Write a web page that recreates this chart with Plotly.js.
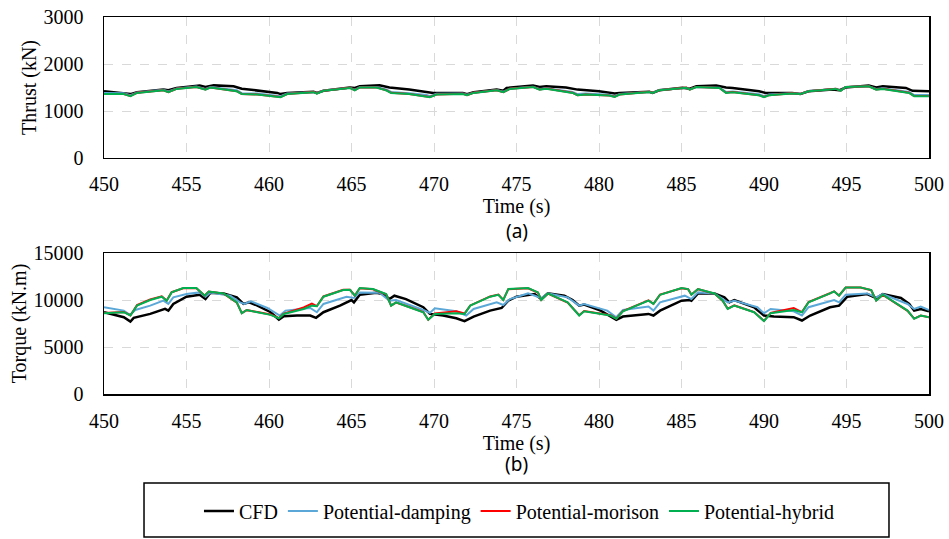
<!DOCTYPE html>
<html><head><meta charset="utf-8">
<script src="https://cdn.plot.ly/plotly-3.0.1.min.js"></script>
<style>html,body{margin:0;padding:0;background:#fff}#chart{width:949px;height:539px}</style>
</head><body><div id="chart"></div>
<script>
// ---------- Thrust (kN) ----------
const tThrustCfd = [450.0,451.2,451.6,452.0,453.6,453.9,454.4,455.8,456.15,456.65,457.85,458.35,459.3,460.5,460.7,461.1,462.7,462.9,463.3,464.9,465.2,465.5,466.7,467.3,468.5,469.75,469.95,471.75,472.0,472.4,473.8,474.2,474.4,
  476.0,476.4,476.8,478.0,478.7,480.0,480.95,481.25,483.05,483.25,483.65,485.05,485.5,485.9,487.1,487.7,488.1,489.7,490.1,491.7,492.2,492.7,494.15,494.55,494.95,496.35,496.8,497.2,498.6,499.0,500.0];
const thrustCfd = [1420,1385,1360,1400,1455,1440,1490,1540,1510,1545,1525,1475,1440,1385,1360,1385,1410,1385,1430,1500,1490,1525,1545,1500,1455,1400,1385,1385,1360,1400,1455,1430,1490,
  1540,1510,1525,1500,1455,1420,1370,1385,1410,1385,1440,1495,1475,1525,1540,1500,1490,1420,1385,1385,1360,1420,1455,1440,1500,1540,1500,1525,1490,1430,1420];

const tThrustPot = [450.0,451.2,451.6,452.0,453.6,453.9,454.4,455.6,456.15,456.45,458.05,458.35,459.3,460.5,460.7,461.1,462.7,462.9,463.3,464.9,465.2,465.5,466.5,467.1,467.4,468.5,469.55,469.75,470.15,471.75,472.0,472.4,473.8,474.2,474.6,475.2,
  476.0,476.4,476.8,478.4,478.7,479.2,480.6,480.95,481.25,483.05,483.25,483.65,485.3,485.5,485.9,487.3,487.7,488.1,489.7,490.0,490.3,491.7,492.2,492.7,494.35,494.65,494.95,496.35,496.8,497.2,498.8,499.1,500.0];
const thrustDamping = [1385,1375,1335,1395,1450,1415,1480,1520,1470,1510,1440,1380,1370,1335,1315,1370,1405,1380,1435,1495,1455,1505,1510,1460,1405,1380,1340,1315,1365,1370,1345,1390,1445,1410,1475,1495,
  1515,1470,1485,1405,1360,1370,1345,1315,1360,1410,1390,1445,1495,1465,1510,1495,1405,1415,1355,1315,1350,1375,1365,1425,1475,1440,1510,1525,1470,1485,1405,1340,1340];
const thrustMorison = [1362,1362,1318,1388,1442,1402,1472,1512,1457,1502,1422,1362,1352,1317,1297,1362,1405,1372,1432,1492,1442,1502,1502,1442,1387,1362,1317,1297,1352,1365,1337,1387,1442,1402,1472,1492,
  1512,1457,1477,1387,1337,1352,1332,1302,1352,1407,1387,1442,1497,1457,1512,1492,1387,1402,1337,1297,1337,1375,1362,1422,1472,1432,1512,1527,1457,1472,1387,1317,1317];
const thrustHybrid = [1360,1360,1315,1385,1440,1400,1470,1510,1455,1500,1420,1360,1350,1315,1295,1360,1400,1370,1430,1490,1440,1500,1500,1440,1385,1360,1315,1295,1350,1360,1335,1385,1440,1400,1470,1490,
  1510,1455,1475,1385,1335,1350,1330,1300,1350,1405,1385,1440,1495,1455,1510,1490,1385,1400,1335,1295,1335,1370,1360,1420,1470,1430,1510,1525,1455,1470,1385,1315,1315];

// ---------- Torque (kN.m) ----------
const tTorqueCfd = [450.0,451.2,451.6,451.8,452.8,453.7,453.9,454.2,455.0,455.8,456.15,456.45,457.25,458.05,458.45,458.8,459.3,460.1,460.6,460.9,461.7,462.5,462.85,463.3,464.3,465.0,465.15,465.5,466.5,466.9,467.3,467.6,468.3,469.35,469.75,470.55,471.35,471.85,472.4,473.4,474.1,474.5,475.0,
  476.1,476.5,476.9,477.9,478.4,478.8,479.1,480.1,481.05,481.45,483.0,483.3,483.7,485.0,485.5,485.6,486.0,487.0,487.6,487.9,488.2,489.4,490.0,490.6,491.8,492.3,492.8,494.0,494.55,495.05,496.25,496.8,497.2,498.3,498.8,499.1,499.5,500.0];
const torqueCfd = [8700,8170,7710,8100,8520,9050,8870,9580,10350,10560,10100,10770,10700,10280,9580,9750,9400,8700,7920,8270,8350,8350,8100,8700,9400,10000,9750,10560,10770,10630,10100,10460,10100,9230,8520,8350,8060,7750,8240,8870,9150,9930,10350,
  10630,10100,10700,10460,10000,9400,9510,8870,7890,8240,8520,8350,8870,9930,10000,9930,10700,10700,10280,9750,10000,9230,8350,8240,8170,7820,8350,9230,9400,10350,10630,10210,10630,10210,9580,8870,9050,8800];

const tTorqueDamping = [450.0,451.2,451.57,451.9,452.8,453.6,453.9,454.2,455.0,455.8,456.15,456.45,457.65,458.25,458.5,458.9,459.9,460.65,461.0,462.5,462.9,463.3,464.7,465.15,465.5,466.7,467.3,467.7,469.35,469.75,470.05,471.35,471.95,472.4,473.8,474.2,474.6,475.2,
  475.7,476.5,476.9,478.1,478.8,479.1,480.5,481.05,481.45,483.0,483.3,483.7,485.2,485.6,486.0,487.0,487.8,488.2,489.6,490.0,490.4,491.8,492.3,492.7,494.25,494.55,494.95,496.25,496.8,497.2,498.7,499.1,499.5,500.0];
const torqueDamping = [9230,8870,8420,8940,9400,9930,9580,10280,10630,10810,10350,10810,10460,9750,9580,9860,9150,8350,8870,9150,8700,9580,10350,10210,10810,10770,9930,10000,8940,8630,9120,8800,8350,9050,9750,9470,10100,10460,
  10700,10210,10700,10280,9400,9580,8870,8170,8940,9300,8870,9750,10460,10100,10810,10700,9750,9930,9230,8590,9050,8800,8350,9230,10000,9750,10560,10700,10280,10630,9580,9050,9300,8940];

const tTorquePot = [450.0,451.2,451.6,452.0,452.8,453.5,453.8,454.1,454.8,455.6,456.1,456.35,457.25,458.05,458.35,458.65,459.3,460.1,460.6,460.9,462.1,462.6,462.9,463.3,464.5,464.9,465.2,465.5,466.3,467.1,467.4,467.7,468.5,469.35,469.65,470.05,471.35,471.85,472.2,473.4,473.9,474.2,474.5,475.2,
  475.7,476.3,476.5,476.9,478.1,478.8,479.1,480.7,481.05,481.45,483.0,483.3,483.7,485.0,485.4,485.6,486.0,487.0,487.5,487.8,488.2,489.4,490.0,490.4,491.8,492.3,492.7,494.0,494.25,494.55,494.95,495.85,496.5,496.8,497.2,498.7,499.1,499.5,500.0];
const torqueMorison = [8620,8730,8360,9450,10050,10400,9950,10830,11250,11250,10470,10900,10680,9720,8600,8920,8720,8450,8080,8560,9200,9620,9360,10380,11080,11100,10480,11250,11140,10600,9420,9730,9250,8720,7900,8560,8800,8560,9420,10380,10580,10020,11150,11250,
  11250,10800,10020,10680,9720,8380,8820,8380,8020,8820,9960,9600,10580,11250,11150,10580,11150,10680,9900,9080,9420,8720,7780,8620,9150,8720,9780,10720,10920,10480,11320,11320,11040,9950,10540,8850,8020,8350,8170];
const torqueHybrid = [8590,8700,8350,9400,10000,10350,9930,10810,11270,11270,10460,10910,10700,9750,8590,8940,8700,8420,8060,8520,9050,9400,9330,10350,11060,11090,10460,11270,11160,10630,9400,9750,9230,8700,7890,8520,8590,8520,9400,10350,10560,10000,11160,11270,
  11270,10810,10000,10700,9750,8350,8800,8350,8000,8800,9930,9580,10560,11270,11160,10560,11160,10700,9930,9050,9400,8700,7750,8590,8940,8700,9750,10700,10910,10460,11340,11340,11060,9930,10560,8870,8000,8350,8170];

// ---------- labels ----------
const seriesNames = ['CFD','Potential-damping','Potential-morison','Potential-hybrid'];
const seriesColors = ['#000000','#5BA8D8','#FF0000','#00B050'];
const seriesWidths = [2.5,2,2,2];
const xTicks = [450,455,460,465,470,475,480,485,490,495,500];
const thrustTicks = [0,1000,2000,3000];
const torqueTicks = [0,5000,10000,15000];
const panelLabels = ['(a)','(b)'];

const serif = '"Liberation Serif", "Times New Roman", serif';
const sans = '"Noto Sans", "Open Sans", sans-serif';
const thrustX = [tThrustCfd,tThrustPot,tThrustPot,tThrustPot];
const thrustY = [thrustCfd,thrustDamping,thrustMorison,thrustHybrid];
const torqueX = [tTorqueCfd,tTorqueDamping,tTorquePot,tTorquePot];
const torqueY = [torqueCfd,torqueDamping,torqueMorison,torqueHybrid];

const traces = [];
for (let i=0;i<4;i++){
  traces.push({x:thrustX[i],y:thrustY[i],type:'scatter',mode:'lines',name:seriesNames[i],
    line:{color:seriesColors[i],width:seriesWidths[i]},xaxis:'x',yaxis:'y',showlegend:true});
}
for (let i=0;i<4;i++){
  traces.push({x:torqueX[i],y:torqueY[i],type:'scatter',mode:'lines',name:seriesNames[i],
    line:{color:seriesColors[i],width:seriesWidths[i]},xaxis:'x2',yaxis:'y2',showlegend:false});
}

const axFont = {family:serif,size:20,color:'#000'};
const panelFont = {family:sans,size:19,color:'#000'};
const axCommon = {showline:true,mirror:true,linecolor:'#000',linewidth:1.5,automargin:false,
  showgrid:true,gridcolor:'#d9d9d9',griddash:'dash',gridwidth:1,zeroline:false,ticks:'',
  tickfont:axFont};

const layout = {
  width:949,height:539,
  paper_bgcolor:'#fff',plot_bgcolor:'#fff',
  margin:{l:104,r:20,t:17,b:145,autoexpand:false},
  font:{family:serif,color:'#000'},
  showlegend:true,
  xaxis:Object.assign({},axCommon,{domain:[0,1],anchor:'y',range:[450,500],tickvals:xTicks,ticklabelstandoff:8,
    title:{text:'Time (s)',font:axFont,standoff:1}}),
  yaxis:Object.assign({},axCommon,{domain:[0.626,1],anchor:'x',range:[0,3000],tickvals:thrustTicks,tickformat:'d',ticklabelstandoff:15,
    title:{text:'Thrust (kN)',font:axFont,standoff:1}}),
  xaxis2:Object.assign({},axCommon,{domain:[0,1],anchor:'y2',range:[450,500],tickvals:xTicks,ticklabelstandoff:8,
    title:{text:'Time (s)',font:axFont,standoff:1}}),
  yaxis2:Object.assign({},axCommon,{domain:[0,0.374],anchor:'x2',range:[0,15000],tickvals:torqueTicks,tickformat:'d',ticklabelstandoff:15,
    title:{text:'Torque (kN.m)',font:axFont,standoff:1}}),
  legend:{orientation:'h',x:0.503,xanchor:'center',xref:'paper',y:0.052,yanchor:'middle',yref:'container',
    font:{family:serif,size:20,color:'#000'},bgcolor:'rgba(0,0,0,0)',borderwidth:0,itemwidth:30},
  shapes:[{type:'rect',xref:'paper',yref:'paper',x0:0.0485,x1:0.9515,y0:-0.379,y1:-0.236,
    line:{color:'#000',width:1.5},fillcolor:'rgba(0,0,0,0)'}],
  annotations:[
    {text:panelLabels[0],xref:'paper',yref:'paper',x:0.5,y:0.433,yanchor:'middle',showarrow:false,font:panelFont},
    {text:panelLabels[1],xref:'paper',yref:'paper',x:0.5,y:-0.186,yanchor:'middle',showarrow:false,font:panelFont}
  ]
};

Plotly.newPlot('chart',traces,layout,{displayModeBar:false,staticPlot:true});
</script>
</body></html>
